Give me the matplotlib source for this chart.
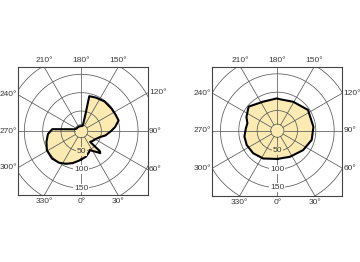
import numpy as np
import matplotlib
matplotlib.use('Agg')
import matplotlib.pyplot as plt

plt.rcParams['font.family'] = ['Liberation Sans', 'DejaVu Sans']

# intensity curves, angle in degrees (0 = straight down, counter-clockwise)
left_angles = [0, 10, 18, 25, 41, 43, 40, 50, 60, 73, 80, 90, 97, 106, 115,
               127, 142, 156, 167, 166, 165, 165, 180, 200, 220, 245, 255,
               260, 264, 266, 275, 287, 299, 313, 325, 335, 345, 355, 360]
left_values = [72, 66, 58, 52, 74, 70, 33, 36, 39, 49, 62, 76, 88, 101, 99,
               98, 98, 95, 93, 46, 20, 10, 9, 9, 9, 10, 15,
               26, 47, 74, 86, 94, 102, 104, 100, 93, 85, 76, 72]

right_angles = [0, 26, 53, 75, 96, 124, 151, 175, 181, 206, 230, 246, 256,
                266, 280, 295, 313, 333, 360]
right_values = [72, 74, 83, 92, 94, 96, 85, 81, 83, 83, 97, 87, 79,
                81, 86, 87, 85, 80, 72]

ring_values = [13, 50, 100, 150, 200]
ring_labels = ['50', '100', '150']
spoke_angles = np.arange(0, 360, 30)

FILL = '#FBEBB3'
GRID = '#5a5a5a'
TEXT = '#3a3a3a'
R0 = 5          # radial offset of the scale
K = 0.367       # pixels per unit


def to_xy(theta_deg, v):
    t = np.radians(np.asarray(theta_deg, dtype=float))
    r = np.asarray(v, dtype=float) + R0
    return r * np.sin(t), -r * np.cos(t)


def draw_panel(fig, box, centre, angles, values):
    x0, y0, x1, y1 = box
    cx, cy = centre
    ax = fig.add_axes([x0 / 360, 1 - y1 / 262, (x1 - x0) / 360, (y1 - y0) / 262])
    xlim = (-(cx - x0) / K, (x1 - cx) / K)
    ylim = (-(y1 - cy) / K, (cy - y0) / K)
    ax.set_xlim(xlim)
    ax.set_ylim(ylim)
    ax.set_xticks([])
    ax.set_yticks([])
    for s in ax.spines.values():
        s.set_color('#444444')
        s.set_linewidth(0.8)

    x, y = to_xy(angles, values)
    ax.fill(x, y, color=FILL, lw=0, zorder=1)

    circ = np.linspace(0, 360, 361)
    for rv in ring_values:
        cxs, cys = to_xy(circ, np.full_like(circ, rv))
        ax.plot(cxs, cys, color=GRID, lw=0.55, zorder=2)
    for a in spoke_angles:
        sx, sy = to_xy([a, a], [ring_values[0], 400])
        ax.plot(sx, sy, color=GRID, lw=0.55, zorder=2)

    ax.plot(x, y, color='black', lw=1.5, zorder=3, solid_joinstyle='round')

    # radial labels along 0 deg
    v0 = values[0]
    for lbl in ring_labels:
        rv = float(lbl)
        lx, ly = to_xy(0, rv)
        face = FILL if rv < v0 else 'white'
        ax.text(lx, ly, lbl, ha='center', va='center', fontsize=6, color=TEXT,
                zorder=4, bbox=dict(boxstyle='square,pad=0.1', fc=face, ec='none'))

    # angle labels where the spokes meet the frame
    for a in spoke_angles:
        s, c = np.sin(np.radians(a)), -np.cos(np.radians(a))
        ts = []
        if s > 1e-9:
            ts.append((xlim[1] / s, 'right'))
        if s < -1e-9:
            ts.append((xlim[0] / s, 'left'))
        if c > 1e-9:
            ts.append((ylim[1] / c, 'top'))
        if c < -1e-9:
            ts.append((ylim[0] / c, 'bottom'))
        t, side = min(ts)
        px, py = t * s, t * c
        if side == 'top':
            off, ha, va = (0, 2.5), 'center', 'bottom'
        elif side == 'bottom':
            off, ha, va = (0, -2.5), 'center', 'top'
        elif side == 'right':
            off, ha, va = (1, 0), 'left', 'center'
        else:
            off, ha, va = (-1, 0), 'right', 'center'
        ax.annotate(f'{a}°', (px, py), xytext=off, textcoords='offset points',
                    ha=ha, va=va, fontsize=6, color=TEXT, annotation_clip=False)
    return ax


fig = plt.figure(figsize=(3.6, 2.62), dpi=100)
draw_panel(fig, (18.3, 67.5, 147.7, 195.0), (81.2, 131.2), left_angles, left_values)
draw_panel(fig, (212.3, 67.3, 342.3, 195.7), (277.3, 130.7), right_angles, right_values)
fig.savefig('out.png', dpi=100)
